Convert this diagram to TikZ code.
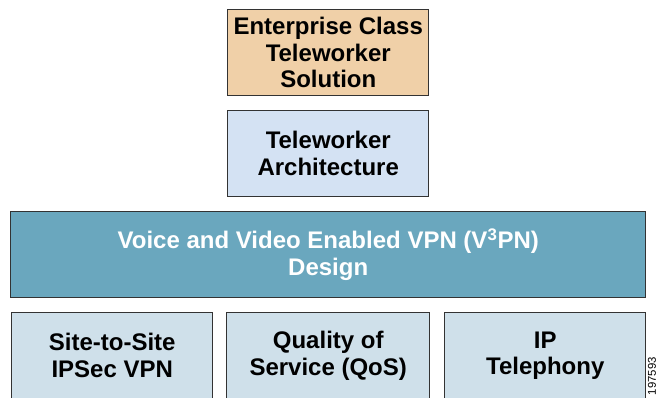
\documentclass[tikz,border=0pt]{standalone}
\usepackage{fontspec}
\setmainfont{Liberation Sans}
\definecolor{orangefill}{HTML}{F0D0A8}
\definecolor{bluefill}{HTML}{D4E2F3}
\definecolor{tealfill}{HTML}{6AA7BE}
\definecolor{paleblue}{HTML}{CFE0EA}
\definecolor{edgegray}{HTML}{333333}
\begin{document}
\begin{tikzpicture}[x=0.75pt,y=-0.75pt,
  box/.style={draw=edgegray,line width=1.1pt,align=center,font=\fontsize{18}{20}\selectfont\bfseries,text=black,inner sep=0pt,anchor=north west},
  smallbox/.style={box,minimum width=201*0.75pt,minimum height=86*0.75pt},
  widebox/.style={box,minimum width=635*0.75pt,minimum height=86*0.75pt}]
\useasboundingbox (0,0) rectangle (659,398);
\clip (0,0) rectangle (659,398);
\node[smallbox,fill=orangefill] (ent) at (227,9) {Enterprise Class\\Teleworker\\Solution};
\node[smallbox,fill=bluefill] (arch) at (227,110) {Teleworker\\Architecture};
\node[widebox,fill=tealfill,text=white] (v3pn) at (10,211) {Voice and Video Enabled VPN (V\textsuperscript{3}PN)\\Design};
\node[smallbox,fill=paleblue] (ipsec) at (11,312) {Site-to-Site\\IPSec VPN};
\node[smallbox,fill=paleblue,minimum width=203*0.75pt] (qos) at (226,312) {Quality of\\Service (QoS)};
\node[smallbox,fill=paleblue] (ipt) at (444,312) {IP\\Telephony};
\node[rotate=90,anchor=east,font=\fontsize{8.5}{9}\selectfont,text=black,inner sep=0pt] (fig) at (652,357) {197593};
\end{tikzpicture}
\end{document}
